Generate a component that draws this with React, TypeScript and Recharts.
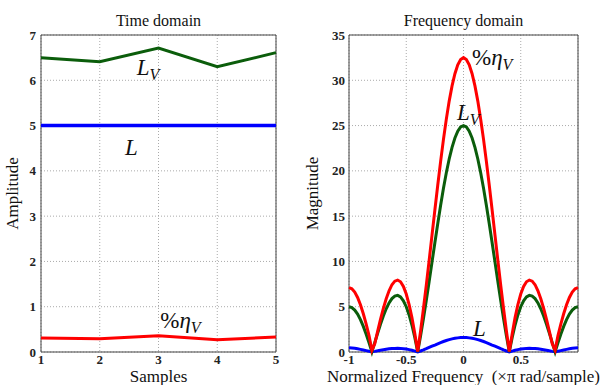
import React from 'react';
import { LineChart, Line, XAxis, YAxis, CartesianGrid, ReferenceArea, ReferenceDot, Label } from 'recharts';

// ---- Time domain ----
const samples = [1, 2, 3, 4, 5];
const lvTime = [6.5, 6.41, 6.71, 6.3, 6.61];
const lTime = [5, 5, 5, 5, 5];
const etaTime = [0.31, 0.29, 0.36, 0.27, 0.33];
const timeYTicks = [0, 1, 2, 3, 4, 5, 6, 7];
const timeXTicks = [1, 2, 3, 4, 5];

// ---- Frequency domain ----
const freqs = [
  -1, -0.975, -0.95, -0.925, -0.9, -0.875, -0.85, -0.825, -0.8, -0.775,
  -0.75, -0.725, -0.7, -0.675, -0.65, -0.625, -0.6, -0.575, -0.55, -0.525,
  -0.5, -0.475, -0.45, -0.425, -0.4, -0.375, -0.35, -0.325, -0.3, -0.275,
  -0.25, -0.225, -0.2, -0.175, -0.15, -0.125, -0.1, -0.075, -0.05, -0.025,
  0,
  0.025, 0.05, 0.075, 0.1, 0.125, 0.15, 0.175, 0.2, 0.225, 0.25,
  0.275, 0.3, 0.325, 0.35, 0.375, 0.4, 0.425, 0.45, 0.475, 0.5,
  0.525, 0.55, 0.575, 0.6, 0.625, 0.65, 0.675, 0.7, 0.725, 0.75,
  0.775, 0.8, 0.825, 0.85, 0.875, 0.9, 0.925, 0.95, 0.975, 1,
];
const etaFreq = [
  7.1, 6.98, 6.61, 6.02, 5.22, 4.22, 3.08, 1.82, 0.2, 0.91,
  2.28, 3.6, 4.81, 5.88, 6.76, 7.43, 7.82, 7.94, 7.75, 7.23,
  6.4, 5.24, 3.77, 2.0, 0.05, 2.29, 4.77, 7.39, 10.11, 12.9,
  15.68, 18.41, 21.02, 23.48, 25.71, 27.7, 29.38, 30.72, 31.7, 32.3,
  32.5,
  32.3, 31.7, 30.72, 29.38, 27.7, 25.71, 23.48, 21.02, 18.41, 15.68,
  12.9, 10.11, 7.39, 4.77, 2.29, 0.05, 2.0, 3.77, 5.24, 6.4,
  7.23, 7.75, 7.94, 7.82, 7.43, 6.76, 5.88, 4.81, 3.6, 2.28,
  0.91, 0.2, 1.82, 3.08, 4.22, 5.22, 6.02, 6.61, 6.98, 7.1,
];
const lvFreq = [
  5.0, 4.91, 4.63, 4.19, 3.58, 2.83, 1.97, 1.02, 0, 1.04,
  2.07, 3.06, 3.97, 4.77, 5.42, 5.9, 6.18, 6.25, 6.08, 5.66,
  5.0, 4.09, 2.95, 1.58, 0, 1.76, 3.66, 5.69, 7.79, 9.93,
  12.07, 14.17, 16.18, 18.07, 19.79, 21.31, 22.6, 23.63, 24.39, 24.85,
  25,
  24.85, 24.39, 23.63, 22.6, 21.31, 19.79, 18.07, 16.18, 14.17, 12.07,
  9.93, 7.79, 5.69, 3.66, 1.76, 0, 1.58, 2.95, 4.09, 5.0,
  5.66, 6.08, 6.25, 6.18, 5.9, 5.42, 4.77, 3.97, 3.06, 2.07,
  1.04, 0, 1.02, 1.97, 2.83, 3.58, 4.19, 4.63, 4.91, 5.0,
];
const lFreq = [
  0.48, 0.45, 0.41, 0.36, 0.29, 0.22, 0.15, 0.08, 0.02, 0.07,
  0.13, 0.2, 0.25, 0.3, 0.35, 0.38, 0.4, 0.41, 0.4, 0.37,
  0.32, 0.26, 0.19, 0.1, 0.01, 0.11, 0.23, 0.36, 0.5, 0.64,
  0.77, 0.91, 1.04, 1.16, 1.27, 1.36, 1.45, 1.51, 1.56, 1.59,
  1.6,
  1.59, 1.56, 1.51, 1.45, 1.36, 1.27, 1.16, 1.04, 0.91, 0.77,
  0.64, 0.5, 0.36, 0.23, 0.11, 0.01, 0.1, 0.19, 0.26, 0.32,
  0.37, 0.4, 0.41, 0.4, 0.38, 0.35, 0.3, 0.25, 0.2, 0.13,
  0.07, 0.02, 0.08, 0.15, 0.22, 0.29, 0.36, 0.41, 0.45, 0.48,
];
const freqYTicks = [0, 5, 10, 15, 20, 25, 30, 35];
const freqXTicks = [-1, -0.5, 0, 0.5];

const timeData = samples.map((s, i) => ({ x: s, lv: lvTime[i], l: lTime[i], eta: etaTime[i] }));
const freqData = freqs.map((f, i) => ({ x: f, eta: etaFreq[i], lv: lvFreq[i], l: lFreq[i] }));

const GREEN = '#0b5d0b';
const BLUE = '#0000ff';
const RED = '#ff0000';
const SERIF = '"Liberation Serif", "DejaVu Serif", serif';
const tickStyle = { fontSize: 13, fontWeight: 'bold', fill: '#222', fontFamily: SERIF };
const axisLabelStyle = { fontSize: 17, fontFamily: SERIF, fill: '#111' };

const LvText = (props: any) => (
  <text x={props.cx} y={props.cy} fontFamily={SERIF} fontStyle="italic" fontSize={23} fill="#111">
    L<tspan fontSize={16} dy={5}>V</tspan>
  </text>
);
const LText = (props: any) => (
  <text x={props.cx} y={props.cy} fontFamily={SERIF} fontStyle="italic" fontSize={23} fill="#111">
    L
  </text>
);
const EtaText = (props: any) => (
  <text x={props.cx} y={props.cy} fontFamily={SERIF} fontSize={23} fill="#111">
    %<tspan fontStyle="italic">η</tspan>
    <tspan fontStyle="italic" fontSize={16} dy={5}>V</tspan>
  </text>
);

const titleStyle: React.CSSProperties = {
  position: 'absolute',
  top: 11,
  fontFamily: SERIF,
  fontSize: 16,
  lineHeight: '20px',
  textAlign: 'center',
  color: '#111',
};

export default function App() {
  return (
    <div style={{ position: 'absolute', left: 0, top: 0, width: 600, height: 385, background: '#fff' }}>
      <div style={{ ...titleStyle, left: 41, width: 235 }}>Time domain</div>
      <div style={{ ...titleStyle, left: 349, width: 229 }}>Frequency domain</div>

      <div style={{ position: 'absolute', left: 0, top: 0 }}>
        <LineChart width={300} height={385} data={timeData} margin={{ top: 35, right: 24, bottom: 3, left: 0 }}>
          <CartesianGrid stroke="#aaa" strokeDasharray="1 2" />
          <XAxis
            dataKey="x"
            type="number"
            domain={[1, 5]}
            ticks={timeXTicks}
            height={30}
            tickSize={0}
            tickMargin={3}
            tick={tickStyle}
            axisLine={false}
            tickLine={false}
          >
            <Label value="Samples" position="insideBottom" offset={0} style={axisLabelStyle} />
          </XAxis>
          <YAxis
            type="number"
            domain={[0, 7]}
            ticks={timeYTicks}
            width={41}
            tickSize={0}
            tickMargin={5}
            tick={tickStyle}
            axisLine={false}
            tickLine={false}
          >
            <Label value="Amplitude" angle={-90} position="insideLeft" offset={12} style={{ ...axisLabelStyle, textAnchor: 'middle' }} />
          </YAxis>
          <ReferenceArea x1={1} x2={5} y1={0} y2={7} fill="none" stroke="#444" strokeWidth={1} />
          <Line dataKey="lv" stroke={GREEN} strokeWidth={3} dot={false} isAnimationActive={false} />
          <Line dataKey="l" stroke={BLUE} strokeWidth={3.5} dot={false} isAnimationActive={false} />
          <Line dataKey="eta" stroke={RED} strokeWidth={3} dot={false} isAnimationActive={false} />
          <ReferenceDot x={2.63} y={6.12} r={0} shape={LvText} />
          <ReferenceDot x={2.43} y={4.35} r={0} shape={LText} />
          <ReferenceDot x={3.03} y={0.53} r={0} shape={EtaText} />
        </LineChart>
      </div>

      <div style={{ position: 'absolute', left: 300, top: 0 }}>
        <LineChart width={300} height={385} data={freqData} margin={{ top: 35, right: 22, bottom: 3, left: 0 }}>
          <CartesianGrid stroke="#aaa" strokeDasharray="1 2" />
          <XAxis
            dataKey="x"
            type="number"
            domain={[-1, 1]}
            ticks={freqXTicks}
            height={30}
            tickSize={0}
            tickMargin={3}
            tick={tickStyle}
            axisLine={false}
            tickLine={false}
          >
            <Label value={'Normalized Frequency\u00a0\u00a0(×π rad/sample)'} position="insideBottom" offset={0} style={axisLabelStyle} />
          </XAxis>
          <YAxis
            type="number"
            domain={[0, 35]}
            ticks={freqYTicks}
            width={49}
            tickSize={0}
            tickMargin={4}
            tick={tickStyle}
            axisLine={false}
            tickLine={false}
          >
            <Label value="Magnitude" angle={-90} position="insideLeft" offset={12} style={{ ...axisLabelStyle, textAnchor: 'middle' }} />
          </YAxis>
          <ReferenceArea x1={-1} x2={1} y1={0} y2={35} fill="none" stroke="#444" strokeWidth={1} />
          <Line dataKey="l" stroke={BLUE} strokeWidth={3} dot={false} isAnimationActive={false} />
          <Line dataKey="lv" stroke={GREEN} strokeWidth={3} dot={false} isAnimationActive={false} />
          <Line dataKey="eta" stroke={RED} strokeWidth={3} dot={false} isAnimationActive={false} />
          <ReferenceDot x={0.074} y={31.7} r={0} shape={EtaText} />
          <ReferenceDot x={-0.057} y={25.6} r={0} shape={LvText} />
          <ReferenceDot x={0.083} y={1.77} r={0} shape={LText} />
        </LineChart>
      </div>
    </div>
  );
}
